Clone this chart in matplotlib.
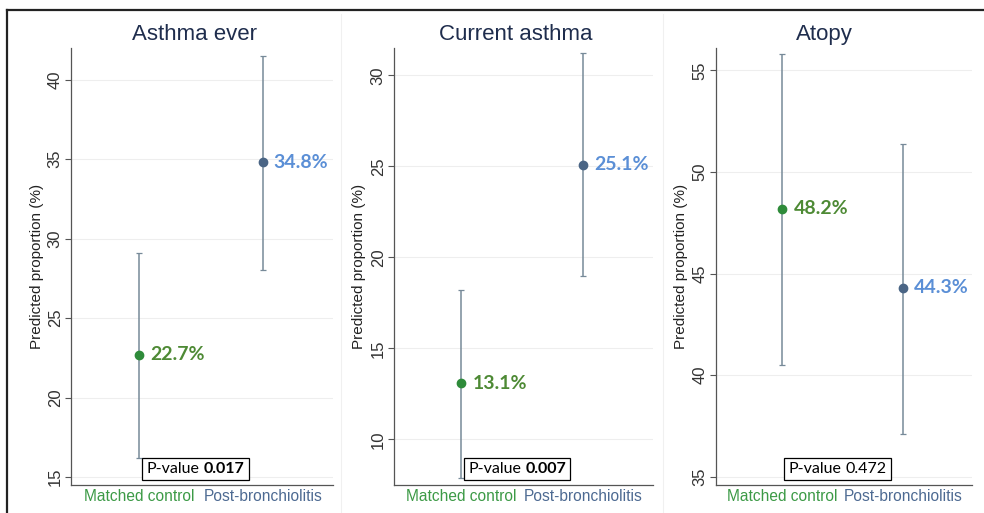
import matplotlib
matplotlib.use("Agg")
import matplotlib.pyplot as plt
from matplotlib.lines import Line2D
from matplotlib.offsetbox import TextArea, HPacker, AnnotationBbox
import numpy as np

plt.rcParams['font.family'] = ['Liberation Sans', 'DejaVu Sans']

# predicted proportions (%) with 95% CI, per outcome
outcomes = ["Asthma ever", "Current asthma", "Atopy"]
groups = ["Matched control", "Post-bronchiolitis"]
estimates = [[22.7, 34.8], [13.1, 25.1], [48.2, 44.3]]
ci_low = [[16.2, 28.0], [7.9, 19.0], [40.5, 37.1]]
ci_high = [[29.1, 41.5], [18.2, 31.2], [55.8, 51.4]]
p_values = ["0.017", "0.007", "0.472"]
p_bold = [True, True, False]

# axis ranges and ticks
y_ranges = [(14.5, 42.0), (7.5, 31.5), (34.6, 56.1)]
y_ticks = [[15, 20, 25, 30, 35, 40], [10, 15, 20, 25, 30], [35, 40, 45, 50, 55]]

point_colors = ["#2e8b3a", "#4a6585"]
label_colors = ["#4e8a35", "#5b8fd6"]
tick_colors = ["#3c9a46", "#4d6a92"]
bar_color = "#778a99"

fig = plt.figure(figsize=(9.84, 5.13), dpi=100)
lefts = [0.0722, 0.4004, 0.7276]
widths = [0.2663, 0.2632, 0.2602]
title_x = [0.473, 0.471, 0.422]

for i, name in enumerate(outcomes):
    ax = fig.add_axes([lefts[i], 0.0546, widths[i], 0.8518])
    x = np.array([1, 2])
    est = np.array(estimates[i])
    lo = np.array(ci_low[i])
    hi = np.array(ci_high[i])
    ax.errorbar(x, est, yerr=[est - lo, hi - est], fmt="none",
                ecolor=bar_color, elinewidth=1.1, capsize=2.5, capthick=0.9, zorder=2)
    for j in range(2):
        ax.plot(x[j], est[j], "o", color=point_colors[j], markersize=6, zorder=3)
        ax.annotate(f"{est[j]:.1f}%", (x[j], est[j]), xytext=(8, 0),
                    textcoords="offset points", va="center", ha="left",
                    fontsize=14, fontweight="bold", family="Lato",
                    color=label_colors[j])

    ax.set_xlim(0.45, 2.57)
    ax.set_ylim(*y_ranges[i])
    ax.set_yticks(y_ticks[i])
    ax.set_yticklabels([str(t) for t in y_ticks[i]], rotation=90, va="center",
                       fontsize=12, color="#333333")
    ax.set_xticks(x)
    ax.set_xticklabels(groups, fontsize=11.2)
    for lbl, c in zip(ax.get_xticklabels(), tick_colors):
        lbl.set_color(c)
    ax.tick_params(axis="x", length=0, pad=3)
    ax.tick_params(axis="y", length=4, width=0.8, color="#555555", pad=2)
    ax.grid(axis="y", color="#eeeeee", linewidth=0.8)
    ax.set_axisbelow(True)
    for s in ["top", "right"]:
        ax.spines[s].set_visible(False)
    for s in ["left", "bottom"]:
        ax.spines[s].set_color("#555555")
        ax.spines[s].set_linewidth(0.9)
    ax.set_ylabel("Predicted proportion (%)", fontsize=11, color="#222222", labelpad=3)
    ax.set_title(name, fontsize=16, color="#1f2d4d", pad=6, x=title_x[i])

    # p-value box, value in bold when significant
    parts = [TextArea("P-value", textprops=dict(fontsize=11.5, family="Lato", color="black")),
             TextArea(p_values[i], textprops=dict(fontsize=11.5, family="Lato", color="black",
                                                  fontweight="bold" if p_bold[i] else "normal"))]
    pack = HPacker(children=parts, align="baseline", pad=0, sep=3)
    box = AnnotationBbox(pack, (0.475, 0.037), xycoords="axes fraction",
                         frameon=True, pad=0.3, zorder=5,
                         bboxprops=dict(edgecolor="black", linewidth=0.9, facecolor="white",
                                        boxstyle="square,pad=0.3"))
    ax.add_artist(box)

# faint panel separators
for xs in [341 / 984, 663 / 984]:
    fig.add_artist(Line2D([xs, xs], [0, 1 - 14 / 513], color="#f0f0f0", linewidth=0.8))

# outer frame on top and left
fig.add_artist(Line2D([7 / 984, 1], [1 - 9.5 / 513, 1 - 9.5 / 513], color="#222222", linewidth=1.6))
fig.add_artist(Line2D([7 / 984, 7 / 984], [0, 1 - 9.5 / 513], color="#222222", linewidth=1.6))

fig.savefig("out.png", dpi=100)
